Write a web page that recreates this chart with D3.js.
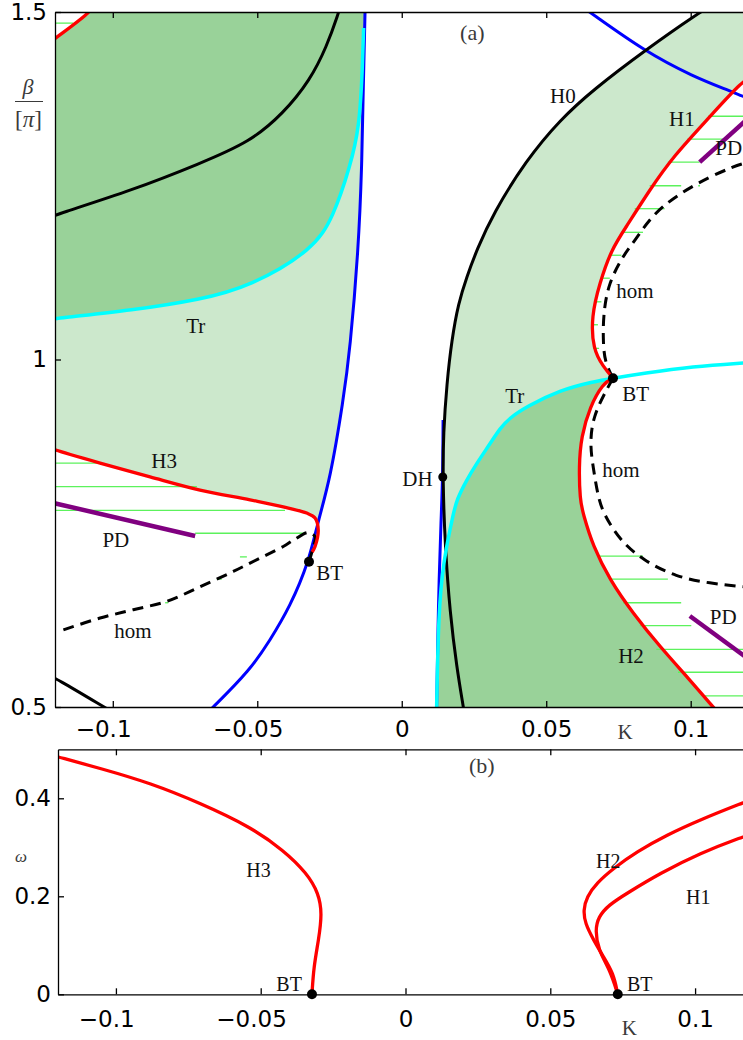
<!DOCTYPE html>
<html>
<head>
<meta charset="utf-8">
<script src="https://cdn.jsdelivr.net/npm/d3@7/dist/d3.min.js"></script>
<style>
  body { margin: 0; background: #fff; }
  svg { display: block; }
  .tick text { font-family: "DejaVu Sans", sans-serif; font-size: 23px; fill: #000; }
  .axis path, .axis line { stroke: #000; stroke-width: 1.3px; }
  .lbl { font-family: "Liberation Serif", "Times New Roman", serif; font-size: 21px; fill: #111; }
  .lblb { font-family: "Liberation Serif", "Times New Roman", serif; font-size: 20px; fill: #111; }
  .gray { font-family: "Liberation Serif", "Times New Roman", serif; fill: #3a3a3a; }
</style>
</head>
<body>
<div id="chart"></div>
<script>
// ticks
const kTicks = [-0.1, -0.05, 0, 0.05, 0.1];
const betaTicks = [0.5, 1, 1.5];
const omegaTicks = [0, 0.2, 0.4];

// ---- panel (a): curves as [K, beta/pi] ----
const h0Curve = [[0.0215,0.495],[0.0213,0.500],[0.0190,0.558],[0.0167,0.635],[0.0150,0.731],[0.0142,0.827],[0.0144,0.894],[0.0156,0.966],[0.0173,1.028],[0.0196,1.081],[0.0225,1.119],[0.0260,1.158],[0.0316,1.210],[0.0431,1.287],[0.0548,1.345],[0.0662,1.388],[0.0842,1.445],[0.1032,1.500],[0.1075,1.510]];
const blackUpper = [[-0.1220,1.204],[-0.1200,1.208],[-0.0929,1.244],[-0.0698,1.282],[-0.0525,1.313],[-0.0410,1.354],[-0.0317,1.402],[-0.0260,1.450],[-0.0219,1.498],[-0.0212,1.510]];
const blackLower = [[-0.1220,0.545],[-0.1200,0.542],[-0.1030,0.500],[-0.1010,0.495]];

const blueLeft = [[-0.0126,1.520],[-0.0127,1.500],[-0.0133,1.398],[-0.0138,1.277],[-0.0150,1.158],[-0.0179,1.014],[-0.0202,0.942],[-0.0248,0.827],[-0.0289,0.769],[-0.0321,0.709],[-0.0387,0.644],[-0.0456,0.596],[-0.0525,0.553],[-0.0652,0.500],[-0.0670,0.493]];
const blueMid = [[0.0120,0.490],[0.0121,0.500],[0.0124,0.582],[0.0129,0.683],[0.0136,0.769],[0.0142,0.831],[0.0143,0.913]];
const blueArc = [[0.0600,1.514],[0.0651,1.500],[0.0835,1.445],[0.1008,1.407],[0.1146,1.385],[0.1181,1.378],[0.1220,1.375]];

const trLeft = [[-0.1220,1.057],[-0.1200,1.059],[-0.0929,1.071],[-0.0698,1.086],[-0.0525,1.105],[-0.0306,1.158],[-0.0237,1.205],[-0.0179,1.277],[-0.0146,1.335],[-0.0136,1.421],[-0.0132,1.477]];
const trRight = [[0.0120,0.490],[0.0121,0.500],[0.0127,0.635],[0.0144,0.711],[0.0179,0.779],[0.0190,0.798],[0.0225,0.827],[0.0260,0.851],[0.0306,0.879],[0.0340,0.901],[0.0374,0.916],[0.0431,0.932],[0.0548,0.956],[0.0662,0.968],[0.0731,0.973],[0.0835,0.980],[0.1008,0.990],[0.1181,0.995],[0.1220,0.996]];

const redCorner = [[-0.1220,1.455],[-0.1200,1.462],[-0.1079,1.499],[-0.1066,1.510]];
const h3Curve = [[-0.1220,0.873],[-0.1200,0.870],[-0.1044,0.851],[-0.0871,0.831],[-0.0698,0.812],[-0.0525,0.798],[-0.0410,0.788],[-0.0329,0.779],[-0.0300,0.772],[-0.0289,0.755],[-0.0300,0.731],[-0.0310,0.723]];
const h1Curve = [[0.1220,1.408],[0.1181,1.402],[0.1066,1.349],[0.0939,1.292],[0.0858,1.244],[0.0777,1.191],[0.0725,1.158],[0.0685,1.110],[0.0656,1.062],[0.0662,1.014],[0.0697,0.990],[0.0731,0.973]];
const h2Curve = [[0.0731,0.973],[0.0697,0.966],[0.0651,0.932],[0.0621,0.889],[0.0613,0.846],[0.0617,0.798],[0.0627,0.779],[0.0662,0.731],[0.0720,0.683],[0.0800,0.635],[0.0893,0.587],[0.0997,0.539],[0.1077,0.500],[0.1100,0.490]];

const homUpper = [[0.0731,0.973],[0.0703,0.996],[0.0697,1.024],[0.0697,1.062],[0.0714,1.110],[0.0772,1.153],[0.0800,1.167],[0.0870,1.210],[0.0962,1.239],[0.1066,1.263],[0.1146,1.277],[0.1181,1.282],[0.1220,1.286]];
const homLower = [[0.0731,0.973],[0.0708,0.956],[0.0662,0.918],[0.0651,0.879],[0.0662,0.846],[0.0679,0.803],[0.0697,0.779],[0.0754,0.740],[0.0835,0.711],[0.0950,0.687],[0.1066,0.678],[0.1181,0.673],[0.1220,0.672]];
const homLeft = [[-0.1171,0.611],[-0.1044,0.628],[-0.0929,0.640],[-0.0813,0.652],[-0.0698,0.673],[-0.0583,0.695],[-0.0525,0.707],[-0.0410,0.731],[-0.0375,0.740],[-0.0323,0.751],[-0.0300,0.745],[-0.0307,0.729],[-0.0321,0.709]];

const pdLeft = [[-0.1220,0.795],[-0.0715,0.746]];
const pdUpper = [[0.1031,1.284],[0.1220,1.355]];
const pdLower = [[0.0997,0.631],[0.1220,0.563]];

// hatching: [beta, K from, K to]
const hatch = [
  [1.484,-0.1200,-0.1137],
  [0.851,-0.1200,-0.1044],[0.817,-0.1200,-0.0709],[0.783,-0.1200,-0.0404],[0.750,-0.0715,-0.0335],
  [0.716,-0.0560,-0.0536],[0.684,-0.0640,-0.0623],[0.650,-0.0819,-0.0808],
  [1.350,0.1060,0.1220],[1.317,0.0988,0.1112],[1.284,0.0921,0.1031],[1.250,0.0858,0.0967],[1.250,0.1026,0.1032],
  [1.217,0.0806,0.0910],[1.183,0.0760,0.0835],[1.150,0.0720,0.0760],[1.117,0.0691,0.0720],
  [1.083,0.0668,0.0691],[1.050,0.0656,0.0679],[1.016,0.0662,0.0683],
  [0.717,0.0685,0.0835],[0.684,0.0720,0.0921],[0.650,0.0766,0.0967],[0.617,0.0824,0.1002],
  [0.583,0.0881,0.1220],[0.550,0.0956,0.1220],[0.516,0.1043,0.1220]
];

const btPointsA = [[-0.0321,0.709],[0.0731,0.973]];
const dhPoint = [[0.0142,0.831]];

// labels: [text, K, beta] (left edge, baseline)
const labelsA = [
  ["H0",0.0513,1.369],["H1",0.0925,1.336],["PD",0.1085,1.294],["hom",0.0742,1.089],
  ["BT",0.0763,0.941],["hom",0.0694,0.831],["Tr",0.0358,0.938],["DH",0.0002,0.818],
  ["Tr",-0.0746,1.038],["H3",-0.0867,0.844],["PD",-0.1036,0.730],["hom",-0.0995,0.599],
  ["BT",-0.0296,0.683],["PD",0.1066,0.619],["H2",0.0749,0.563]
];

// ---- panel (b): frequency omega along the Hopf curves ----
const h3Omega = [[-0.1220,0.488],[-0.1197,0.484],[-0.1053,0.461],[-0.0880,0.431],[-0.0708,0.390],[-0.0536,0.342],[-0.0421,0.294],[-0.0340,0.247],[-0.0300,0.206],[-0.0288,0.165],[-0.0300,0.111],[-0.0317,0.056],[-0.0323,0.000]];
const h2Omega = [[0.0733,0.000],[0.0718,0.043],[0.0683,0.077],[0.0649,0.111],[0.0620,0.145],[0.0614,0.172],[0.0626,0.199],[0.0660,0.227],[0.0718,0.257],[0.0799,0.291],[0.0902,0.325],[0.1017,0.356],[0.1166,0.391],[0.1220,0.403]];
const h1Omega = [[0.0733,0.000],[0.0706,0.050],[0.0666,0.090],[0.0655,0.131],[0.0666,0.158],[0.0701,0.182],[0.0764,0.206],[0.0879,0.247],[0.1017,0.288],[0.1166,0.322],[0.1220,0.332]];
const btPointsB = [[-0.0323,0],[0.0733,0]];
const labelsB = [["H3",-0.0550,0.239],["BT",-0.0446,0.007],["H2",0.0658,0.258],["H1",0.0969,0.184],["BT",0.0765,0.007]];

const W = 743, H = 1040;
const svg = d3.select("#chart").append("svg").attr("width", W).attr("height", H);

const xA = d3.scaleLinear().domain([-0.12, 0.12]).range([55, 748.5]);
const yA = d3.scaleLinear().domain([0.5, 1.5]).range([707, 12]);
const xB = d3.scaleLinear().domain([-0.12, 0.12]).range([58, 753]);
const yB = d3.scaleLinear().domain([0, 0.5]).range([994.3, 749.3]);

const fmtK = d => d === 0 ? "0" : (d < 0 ? "\u2212" : "") + Math.abs(d);

// smooth curves get a B-spline, the ones with a sharp bend go through every point
const lineA = d3.line().x(d => xA(d[0])).y(d => yA(d[1])).curve(d3.curveBasis);
const lineSharp = d3.line().x(d => xA(d[0])).y(d => yA(d[1])).curve(d3.curveCatmullRom.alpha(0.5));
const lineB = d3.line().x(d => xB(d[0])).y(d => yB(d[1])).curve(d3.curveBasis);

// glue several boundary pieces into one closed area; piece = [points, sharp?]
function joinPath(pieces) {
  return pieces.map(([p, sharp], i) => {
    let s = p.length === 1 ? "M" + xA(p[0][0]) + "," + yA(p[0][1]) : (sharp ? lineSharp : lineA)(p);
    return i === 0 ? s : "L" + s.slice(1);
  }).join("") + "Z";
}

// clip paths
const defs = svg.append("defs");
defs.append("clipPath").attr("id", "clipA").append("rect")
  .attr("x", 55).attr("y", 12).attr("width", 748.5 - 55).attr("height", 707 - 12);
defs.append("clipPath").attr("id", "clipB").append("rect")
  .attr("x", 58).attr("y", 749.3).attr("width", 753 - 58).attr("height", 994.3 - 749.3);

// ================= panel (a) =================
const gA = svg.append("g").attr("clip-path", "url(#clipA)");

const lightG = "#cce8cc", darkG = "#99d299";
const trRightLow = trRight.filter(d => d[0] <= 0.0731);

// light green left region (between Tr, blue and H3)
gA.append("path")
  .attr("d", joinPath([[trLeft], [blueLeft.filter(d => d[1] >= 0.769)], [h3Curve.slice(0, 9).reverse(), true]]))
  .attr("fill", lightG);

// dark green upper left (above Tr)
gA.append("path")
  .attr("d", joinPath([[trLeft], [[[-0.0128, 1.52]]], [redCorner.slice().reverse()]]))
  .attr("fill", darkG);

// light green band on the right (between H0, Tr and H1)
gA.append("path")
  .attr("d", joinPath([[h0Curve.slice().reverse()], [trRightLow], [h1Curve.slice().reverse()], [[[0.125, 1.52]]]]))
  .attr("fill", lightG);

// dark green lower right (below Tr, left of H2)
gA.append("path")
  .attr("d", joinPath([[trRightLow], [h2Curve]]))
  .attr("fill", darkG);

// green hatching
gA.selectAll(".hatch")
  .data(hatch)
  .enter().append("line")
  .attr("class", "hatch")
  .attr("x1", d => xA(d[1])).attr("x2", d => xA(d[2]))
  .attr("y1", d => yA(d[0])).attr("y2", d => yA(d[0]))
  .attr("stroke", "#5cf25c").attr("stroke-width", 1.3);

// curves, drawn in layer order
const curves = [
  {pts: blueLeft, color: "#0000ff", w: 3},
  {pts: blueMid, color: "#0000ff", w: 3},
  {pts: blueArc, color: "#0000ff", w: 3},
  {pts: h0Curve, color: "#000", w: 3},
  {pts: blackUpper, color: "#000", w: 3},
  {pts: blackLower, color: "#000", w: 3},
  {pts: trLeft, color: "#00ffff", w: 3.5},
  {pts: trRight, color: "#00ffff", w: 3.5},
  {pts: homUpper, color: "#000", w: 3, dash: "11,7"},
  {pts: homLower, color: "#000", w: 3, dash: "11,7"},
  {pts: homLeft, color: "#000", w: 3, dash: "11,7", sharp: true},
  {pts: redCorner, color: "#ff0000", w: 3.3},
  {pts: h3Curve, color: "#ff0000", w: 3.3, sharp: true},
  {pts: h1Curve, color: "#ff0000", w: 3.3},
  {pts: h2Curve, color: "#ff0000", w: 3.3},
  {pts: pdLeft, color: "#800080", w: 4.5},
  {pts: pdUpper, color: "#800080", w: 4.5},
  {pts: pdLower, color: "#800080", w: 4.5}
];

gA.selectAll(".curve")
  .data(curves)
  .enter().append("path")
  .attr("class", "curve")
  .attr("d", d => (d.sharp ? lineSharp : lineA)(d.pts))
  .attr("fill", "none")
  .attr("stroke", d => d.color)
  .attr("stroke-width", d => d.w)
  .attr("stroke-dasharray", d => d.dash || null)
  .attr("stroke-linejoin", "round");

// BT and DH points
gA.selectAll(".pt")
  .data(btPointsA.concat(dhPoint))
  .enter().append("circle")
  .attr("cx", d => xA(d[0])).attr("cy", d => yA(d[1]))
  .attr("r", (d, i) => i < 2 ? 5 : 4.5)
  .attr("fill", "#000");

// curve labels
svg.selectAll(".lblA")
  .data(labelsA)
  .enter().append("text")
  .attr("class", "lbl")
  .attr("x", d => xA(d[1])).attr("y", d => yA(d[2]))
  .text(d => d[0]);

svg.append("text").attr("class", "gray").style("font-size", "22px")
  .attr("x", xA(0.0202)).attr("y", yA(1.460)).text("(a)");

// axes of (a)
svg.append("g").attr("class", "axis").attr("transform", "translate(0,707)")
  .call(d3.axisBottom(xA).tickValues(kTicks).tickSizeInner(-6).tickSizeOuter(0).tickPadding(14).tickFormat(fmtK));
svg.append("g").attr("class", "axis").attr("transform", "translate(0,12)")
  .call(d3.axisTop(xA).tickValues(kTicks).tickSizeInner(-6).tickSizeOuter(0).tickFormat(""));
svg.append("g").attr("class", "axis").attr("transform", "translate(55,0)")
  .call(d3.axisLeft(yA).tickValues(betaTicks).tickSizeInner(-6).tickSizeOuter(0).tickPadding(8).tickFormat(d => d));

// ================= panel (b) =================
const gB = svg.append("g").attr("clip-path", "url(#clipB)");

gB.selectAll(".curveB")
  .data([h3Omega, h2Omega, h1Omega])
  .enter().append("path")
  .attr("d", d => lineB(d))
  .attr("fill", "none")
  .attr("stroke", "#ff0000")
  .attr("stroke-width", 3.3);

svg.selectAll(".ptB")
  .data(btPointsB)
  .enter().append("circle")
  .attr("cx", d => xB(d[0])).attr("cy", d => yB(d[1]))
  .attr("r", 5).attr("fill", "#000");

svg.selectAll(".lblB")
  .data(labelsB)
  .enter().append("text")
  .attr("class", "lblb")
  .attr("x", d => xB(d[1])).attr("y", d => yB(d[2]))
  .text(d => d[0]);

svg.append("text").attr("class", "gray").style("font-size", "22px")
  .attr("x", xB(0.0219)).attr("y", yB(0.452)).text("(b)");

svg.append("g").attr("class", "axis").attr("transform", "translate(0,994.3)")
  .call(d3.axisBottom(xB).tickValues(kTicks).tickSizeInner(-6).tickSizeOuter(0).tickPadding(16).tickFormat(fmtK));
svg.append("g").attr("class", "axis").attr("transform", "translate(0,749.3)")
  .call(d3.axisTop(xB).tickValues(kTicks).tickSizeInner(-6).tickSizeOuter(0).tickFormat(""));
svg.append("g").attr("class", "axis").attr("transform", "translate(58,0)")
  .call(d3.axisLeft(yB).tickValues(omegaTicks).tickSizeInner(-6).tickSizeOuter(0).tickPadding(7).tickFormat(d => d));

// negative tick labels: let the minus hang to the left
svg.selectAll(".tick text").filter(d => d < 0).attr("dx", "-0.42em");

// axis titles
svg.append("text").attr("class", "gray").style("font-size", "21px")
  .attr("x", xA(0.0773)).attr("y", 739).attr("text-anchor", "middle").text("K");
svg.append("text").attr("class", "gray").style("font-size", "21px")
  .attr("x", xB(0.0773)).attr("y", 1035).attr("text-anchor", "middle").text("K");

// beta / [pi]
svg.append("text").attr("class", "gray").style("font-size", "22px").style("font-style", "italic")
  .attr("x", 28).attr("y", 94).attr("text-anchor", "middle").text("\u03b2");
svg.append("line").attr("x1", 15).attr("x2", 43).attr("y1", 101.5).attr("y2", 101.5)
  .attr("stroke", "#3a3a3a").attr("stroke-width", 1);
let piLbl = svg.append("text").attr("class", "gray").style("font-size", "23px")
  .attr("x", 28.5).attr("y", 127).attr("text-anchor", "middle");
piLbl.append("tspan").text("[");
piLbl.append("tspan").style("font-style", "italic").text("\u03c0");
piLbl.append("tspan").text("]");

svg.append("text").attr("class", "gray").style("font-size", "17px").style("font-style", "italic")
  .attr("x", 21).attr("y", 862).attr("text-anchor", "middle").text("\u03c9");
</script>
</body>
</html>
